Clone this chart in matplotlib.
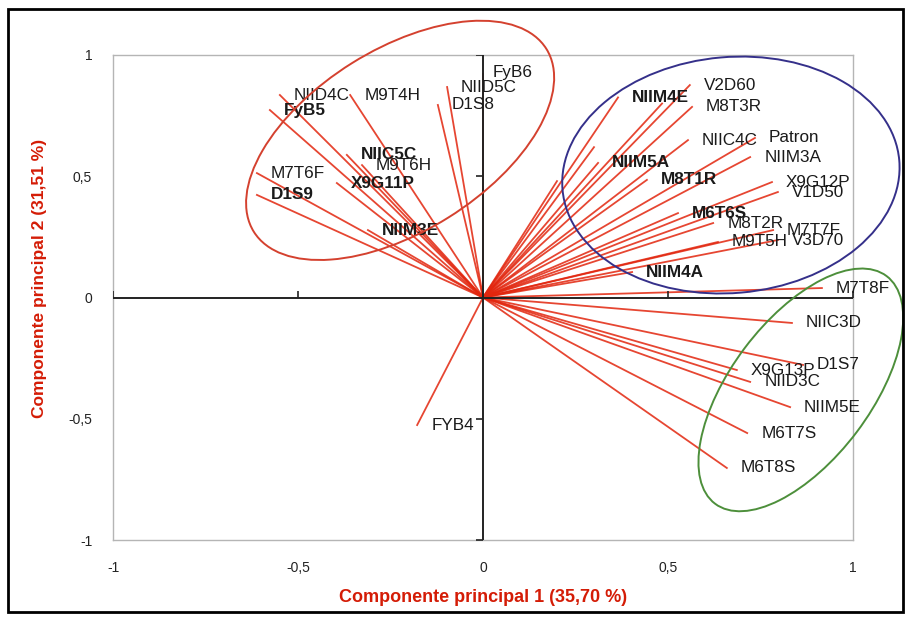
import matplotlib.pyplot as plt
import matplotlib.transforms as mtransforms
from matplotlib.patches import Ellipse, Rectangle

plt.rcParams['font.family'] = ['Liberation Sans', 'DejaVu Sans']

# loadings (componente 1, componente 2)
variables = ['NIID4C', 'FyB5', 'M9T4H', 'NIID5C', 'D1S8', 'FyB6', 'NIIC5C', 'M9T6H',
             'X9G11P', 'M7T6F', 'D1S9', 'NIIM3E', 'FYB4',
             'NIIM4E', 'V2D60', 'M8T3R', 'NIIC4C', 'Patron', 'NIIM3A', 'NIIM5A', 'M8T1R',
             'X9G12P', 'V1D50', 'M6T6S', 'M8T2R', 'M7T7F', 'M9T5H', 'V3D70', 'NIIM4A',
             'M7T8F', 'NIIC3D', 'D1S7', 'X9G13P', 'NIID3C', 'NIIM5E', 'M6T7S', 'M6T8S']
pc1 = [-0.549, -0.576, -0.359, -0.097, -0.122, 0.0, -0.368, -0.327,
       -0.395, -0.611, -0.611, -0.311, -0.178,
       0.365, 0.559, 0.565, 0.554, 0.735, 0.722, 0.311, 0.443,
       0.781, 0.797, 0.527, 0.622, 0.784, 0.635, 0.797, 0.403,
       0.916, 0.835, 0.865, 0.686, 0.722, 0.830, 0.714, 0.659]
pc2 = [0.835, 0.773, 0.835, 0.868, 0.794, 0.92, 0.588, 0.546,
       0.472, 0.513, 0.423, 0.278, -0.526,
       0.825, 0.876, 0.786, 0.649, 0.658, 0.579, 0.555, 0.485,
       0.476, 0.435, 0.348, 0.307, 0.278, 0.229, 0.237, 0.105,
       0.039, -0.105, -0.278, -0.299, -0.348, -0.452, -0.559, -0.703]

# vectors without a readable label
extra_pc1 = [0.484, 0.30, 0.20]
extra_pc2 = [0.80, 0.62, 0.48]

bold_labels = {'FyB5', 'NIIC5C', 'X9G11P', 'NIIM3E', 'D1S9', 'NIIM4E', 'NIIM5A',
               'M8T1R', 'M6T6S', 'NIIM4A'}
label_offsets = {'FyB6': (10, 2)}

ticks = [-1, -0.5, 0, 0.5, 1]
tick_labels = ['-1', '-0,5', '0', '0,5', '1']

fig = plt.figure(figsize=(9.07, 6.2), dpi=100)
ax = fig.add_axes([113 / 907, 1 - 540 / 620, 740 / 907, 485 / 620])
ax.set_xlim(-1, 1)
ax.set_ylim(-1, 1)

line_color = '#e2260e'
for x, y in zip(extra_pc1 + pc1, extra_pc2 + pc2):
    ax.plot([0, x], [0, y], color=line_color, lw=1.3, alpha=0.85, zorder=2)

# axes through the origin
ax.plot([-1, 1], [0, 0], color='#222222', lw=1.4, zorder=3)
ax.plot([0, 0], [-1, 1], color='#222222', lw=1.4, zorder=3)
ax.plot(ticks, [0] * len(ticks), ls='none', marker=2, ms=5, mew=1.2, color='#222222', zorder=3)
ax.plot([0] * len(ticks), ticks, ls='none', marker=0, ms=5, mew=1.2, color='#222222', zorder=3)

for name, x, y in zip(variables, pc1, pc2):
    dx, dy = label_offsets.get(name, (14, 0))
    ax.annotate(name, (x, y), xytext=(dx, dy), textcoords='offset pixels',
                ha='left', va='center', fontsize=12.3, color='#1a1a1a',
                fontweight='bold' if name in bold_labels else 'normal', zorder=4)

# group ellipses (size in pixels, centre in data units)
groups = [
    (-0.224, 0.648, 345, 182, 32, '#d4412f'),
    (0.670, 0.505, 338, 236, 5, '#35308a'),
    (0.859, -0.381, 285, 140, 53, '#4d8f3b'),
]
for cx, cy, w, h, ang, col in groups:
    tr = fig.dpi_scale_trans + mtransforms.ScaledTranslation(cx, cy, ax.transData)
    ax.add_patch(Ellipse((0, 0), w / 100, h / 100, angle=ang, transform=tr,
                         fill=False, edgecolor=col, lw=1.4, clip_on=False, zorder=5))

for s in ax.spines.values():
    s.set_color('#b5b5b5')
    s.set_linewidth(1.0)
ax.set_xticks(ticks)
ax.set_xticklabels(tick_labels)
ax.set_yticks(ticks)
ax.set_yticklabels(tick_labels)
ax.tick_params(length=0, pad=15, labelsize=10, colors='#222222')

ax.set_xlabel('Componente principal 1 (35,70 %)', fontsize=13, fontweight='bold',
              color='#d41c06')
ax.set_ylabel('Componente principal 2 (31,51 %)', fontsize=12.5, fontweight='bold',
              color='#d41c06')
ax.xaxis.set_label_coords(0.5, -0.102)
ax.yaxis.set_label_coords(-0.089, 0.54)

fig.patches.append(Rectangle((0.009, 0.013), 0.987, 0.973, transform=fig.transFigure,
                             fill=False, edgecolor='black', lw=2))

plt.savefig('out.png', dpi=100)
